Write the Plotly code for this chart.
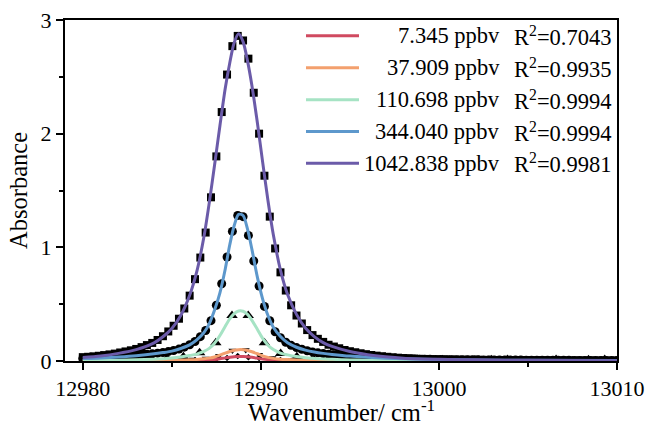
import numpy as np
import plotly.graph_objects as go

# ---------------- data ----------------
# fitted-curve sampling grid (cm-1)
fit_x = [12980, 12981, 12982, 12983, 12984, 12984.5, 12985, 12985.5, 12986, 12986.4,
         12986.8, 12987.1, 12987.4, 12987.7, 12988.0, 12988.25, 12988.5, 12988.75, 12989.0, 12989.25,
         12989.5, 12989.8, 12990.1, 12990.4, 12990.7, 12991.1, 12991.5, 12992, 12992.5, 12993,
         12993.5, 12994, 12995, 12996, 12997, 12998, 13000, 13002, 13005, 13010]

fit_1042 = [0.030, 0.044, 0.067, 0.10, 0.16, 0.213, 0.286, 0.40, 0.578, 0.786,
            1.09, 1.39, 1.725, 2.07, 2.40, 2.62, 2.80, 2.88, 2.81, 2.64,
            2.42, 2.10, 1.75, 1.41, 1.11, 0.80, 0.585, 0.41, 0.29, 0.215,
            0.162, 0.128, 0.083, 0.055, 0.037, 0.025, 0.015, 0.010, 0.006, 0.003]
fit_344 = [0.021, 0.027, 0.036, 0.047, 0.063, 0.074, 0.087, 0.11, 0.142, 0.185,
           0.25, 0.327, 0.448, 0.60, 0.81, 1.02, 1.19, 1.29, 1.28, 1.16,
           0.98, 0.74, 0.545, 0.40, 0.297, 0.215, 0.16, 0.121, 0.096, 0.079,
           0.067, 0.058, 0.043, 0.033, 0.025, 0.019, 0.013, 0.0095, 0.0063, 0.0037]
fit_110 = [0.0042, 0.0053, 0.0075, 0.0105, 0.016, 0.0205, 0.026, 0.035, 0.048, 0.061,
           0.084, 0.111, 0.156, 0.224, 0.306, 0.37, 0.417, 0.44, 0.438, 0.41,
           0.357, 0.279, 0.199, 0.139, 0.101, 0.07, 0.054, 0.039, 0.029, 0.023,
           0.018, 0.0145, 0.0096, 0.0067, 0.0049, 0.0038, 0.0027, 0.002, 0.0014, 0.001]
fit_37 = [0.001, 0.0012, 0.0017, 0.0024, 0.0036, 0.0047, 0.0059, 0.008, 0.011, 0.0139,
          0.0192, 0.0253, 0.0356, 0.051, 0.07, 0.084, 0.095, 0.1, 0.0999, 0.093,
          0.081, 0.064, 0.045, 0.032, 0.023, 0.016, 0.0123, 0.0089, 0.0066, 0.0052,
          0.0041, 0.0033, 0.0022, 0.0015, 0.0011, 0.0009, 0.0006, 0.0005, 0.0003, 0.0002]
fit_7 = [0.0004, 0.0005, 0.0007, 0.0009, 0.0014, 0.0018, 0.0023, 0.0032, 0.0043, 0.0055,
         0.0076, 0.01, 0.014, 0.02, 0.0275, 0.033, 0.0375, 0.0396, 0.0394, 0.0369,
         0.0321, 0.0251, 0.0179, 0.0126, 0.0091, 0.0063, 0.0049, 0.0035, 0.0026, 0.0021,
         0.0016, 0.0013, 0.0009, 0.0006, 0.0004, 0.0003, 0.0002, 0.0002, 0.0001, 0.0001]

# measured spectra (markers); sampling grids
x_1042 = np.round(np.linspace(12980.0, 13010.0, 101), 2)
x_344 = np.round(np.linspace(12980.0, 13010.0, 101), 2)
x_110 = np.round(np.linspace(12980.19, 13009.31, 33), 2)
x_37 = np.round(np.linspace(12980.15, 13009.4, 40), 2)
x_7 = np.round(np.linspace(12980.3, 13009.7, 50), 2)

y_1042 = [0.034, 0.037, 0.041, 0.046, 0.052, 0.058, 0.065, 0.075, 0.084, 0.094,
          0.106, 0.122, 0.14, 0.159, 0.185, 0.218, 0.26, 0.31, 0.372, 0.462,
          0.575, 0.72, 0.91, 1.13, 1.44, 1.80, 2.19, 2.52, 2.77, 2.86,
          2.82, 2.66, 2.36, 2.00, 1.63, 1.27, 0.99, 0.78, 0.62, 0.49,
          0.40, 0.33, 0.272, 0.228, 0.195, 0.168, 0.143, 0.127, 0.112, 0.097,
          0.086, 0.077, 0.068, 0.06, 0.053, 0.047, 0.042, 0.037, 0.033, 0.029,
          0.026, 0.024, 0.021, 0.019, 0.018, 0.016, 0.015, 0.014, 0.014, 0.013,
          0.012, 0.011, 0.011, 0.01, 0.011, 0.009, 0.01, 0.009, 0.008, 0.009,
          0.008, 0.007, 0.008, 0.007, 0.007, 0.006, 0.007, 0.006, 0.006, 0.005,
          0.006, 0.005, 0.005, 0.005, 0.004, 0.005, 0.004, 0.004, 0.004, 0.003, 0.004]
y_344 = [0.022, 0.024, 0.026, 0.028, 0.030, 0.033, 0.035, 0.038, 0.042, 0.045,
         0.049, 0.054, 0.059, 0.063, 0.069, 0.075, 0.083, 0.092, 0.105, 0.122,
         0.143, 0.172, 0.214, 0.268, 0.355, 0.49, 0.68, 0.915, 1.14, 1.28,
         1.27, 1.105, 0.88, 0.66, 0.48, 0.354, 0.257, 0.205, 0.165, 0.138,
         0.118, 0.103, 0.09, 0.08, 0.072, 0.066, 0.06, 0.055, 0.051, 0.047,
         0.043, 0.04, 0.037, 0.034, 0.031, 0.029, 0.027, 0.025, 0.023, 0.021,
         0.02, 0.018, 0.017, 0.016, 0.015, 0.015, 0.014, 0.013, 0.012, 0.012,
         0.011, 0.011, 0.010, 0.010, 0.010, 0.009, 0.009, 0.009, 0.009, 0.008,
         0.008, 0.008, 0.008, 0.007, 0.007, 0.007, 0.007, 0.006, 0.006, 0.006,
         0.006, 0.006, 0.005, 0.005, 0.005, 0.005, 0.005, 0.004, 0.004, 0.004, 0.004]
y_110 = [0.006, 0.003, 0.009, 0.011, 0.014, 0.023, 0.038, 0.073, 0.16, 0.40,
         0.40, 0.16, 0.067, 0.038, 0.022, 0.016, 0.009, 0.008, 0.004, 0.006,
         0.0, 0.002, 0.012, -0.002, 0.008, 0.012, 0.014, -0.003, 0.0, 0.013,
         -0.002, 0.011, 0.013]
y_37 = [0.002, 0.0, 0.003, 0.001, 0.004, 0.003, 0.006, 0.007, 0.013, 0.022,
        0.046, 0.092, 0.097, 0.056, 0.026, 0.012, 0.009, 0.005, 0.004, 0.002,
        0.003, 0.0, 0.002, -0.001, 0.004, 0.001, 0.0, 0.003, -0.002, 0.002,
        0.001, 0.004, 0.0, 0.002, -0.001, 0.003, 0.001, 0.0, 0.002, 0.001]
y_7 = [0.002, -0.002, 0.003, 0.0, 0.004, -0.001, 0.003, 0.001, 0.005, 0.002,
       0.008, 0.006, 0.019, 0.027, 0.043, 0.033, 0.026, 0.009, 0.009, 0.002,
       0.005, 0.001, 0.004, -0.001, 0.002, 0.003, 0.0, 0.004, -0.002, 0.001,
       0.003, 0.0, 0.002, -0.001, 0.004, 0.001, 0.0, 0.003, -0.002, 0.002,
       0.001, 0.004, 0.0, 0.002, -0.001, 0.003, 0.001, 0.0, 0.002, 0.001]

conc_labels = ["7.345 ppbv", "37.909 ppbv", "110.698 ppbv", "344.040 ppbv", "1042.838 ppbv"]
r2_labels = ["R<sup>2</sup>=0.7043", "R<sup>2</sup>=0.9935", "R<sup>2</sup>=0.9994",
             "R<sup>2</sup>=0.9994", "R<sup>2</sup>=0.9981"]
x_ticks = [12980, 12990, 13000, 13010]
y_ticks = [0, 1, 2, 3]
x_title = "Wavenumber/ cm<sup>-1</sup>"
y_title = "Absorbance"

# ---------------- style ----------------
colors = ["#d04a60", "#f3a06e", "#a6e3c4", "#5d98cc", "#6b5ba9"]
FONT = "Liberation Serif, Times New Roman, serif"

fig = go.Figure()

marker_specs = [
    (x_7, y_7, "diamond", 5),
    (x_37, y_37, "triangle-down", 7),
    (x_110, y_110, "triangle-up", 10),
    (x_344, y_344, "circle", 9),
    (x_1042, y_1042, "square", 8),
]
for xs, ys, sym, sz in marker_specs:
    fig.add_trace(go.Scatter(x=xs, y=ys, mode="markers", showlegend=False,
                             marker=dict(symbol=sym, size=sz, color="black",
                                         line=dict(width=0))))

fits = [fit_7, fit_37, fit_110, fit_344, fit_1042]
for ys, c in zip(fits, colors):
    fig.add_trace(go.Scatter(x=fit_x, y=ys, mode="lines", showlegend=False,
                             line=dict(color=c, width=3, shape="spline", smoothing=0.8)))

# legend (right-aligned concentration column + R^2 column)
L, R, T, B = 65, 34, 20, 61
W, H = 651, 422
pw, ph = W - L - R, H - T - B
row_px = [35.7, 67.7, 99.7, 131.5, 163.3]
for i, py in enumerate(row_px):
    yp = (H - B - py) / ph
    fig.add_shape(type="line", xref="paper", yref="paper",
                  x0=(306 - L) / pw, x1=(359 - L) / pw, y0=yp, y1=yp,
                  line=dict(color=colors[i], width=3))
    fig.add_annotation(xref="paper", yref="paper", x=(502 - L) / pw, y=yp,
                       xanchor="right", yanchor="middle", text=conc_labels[i],
                       showarrow=False, font=dict(family=FONT, size=22.5, color="black"))
    fig.add_annotation(xref="paper", yref="paper", x=(512 - L) / pw, y=yp,
                       xanchor="left", yanchor="middle", text=r2_labels[i],
                       showarrow=False, font=dict(family=FONT, size=22.5, color="black"))

# x-axis title placed just below the tick labels
fig.add_annotation(xref="paper", yref="paper", x=0.5, y=(H - B - 411) / ph,
                   xanchor="center", yanchor="middle", text=x_title, showarrow=False,
                   font=dict(family=FONT, size=24.5, color="black"))

axis_common = dict(showline=True, linewidth=2, linecolor="black", mirror=True,
                   ticks="outside", ticklen=7, tickwidth=2, tickcolor="black",
                   showgrid=False, zeroline=False, automargin=False,
                   tickfont=dict(family=FONT, size=22, color="black"))

fig.update_xaxes(range=[12979.0, 13010.0], tickvals=x_ticks,
                 ticktext=[str(v) for v in x_ticks],
                 minor=dict(dtick=5, tick0=12980, ticks="outside", ticklen=4,
                            tickwidth=2, tickcolor="black"),
                 **axis_common)
fig.update_yaxes(range=[0, 3], tickvals=y_ticks, ticktext=[str(v) for v in y_ticks],
                 minor=dict(dtick=0.5, tick0=0, ticks="outside", ticklen=4,
                            tickwidth=2, tickcolor="black"),
                 title=dict(text=y_title, standoff=6,
                            font=dict(family=FONT, size=24.5, color="black")),
                 **axis_common)

fig.update_layout(width=W, height=H, margin=dict(l=L, r=R, t=T, b=B),
                  plot_bgcolor="white", paper_bgcolor="white", showlegend=False)

fig.write_html("out.html", config={"displayModeBar": False},
               post_script="document.body.style.margin='0px';document.body.style.overflow='hidden';")
